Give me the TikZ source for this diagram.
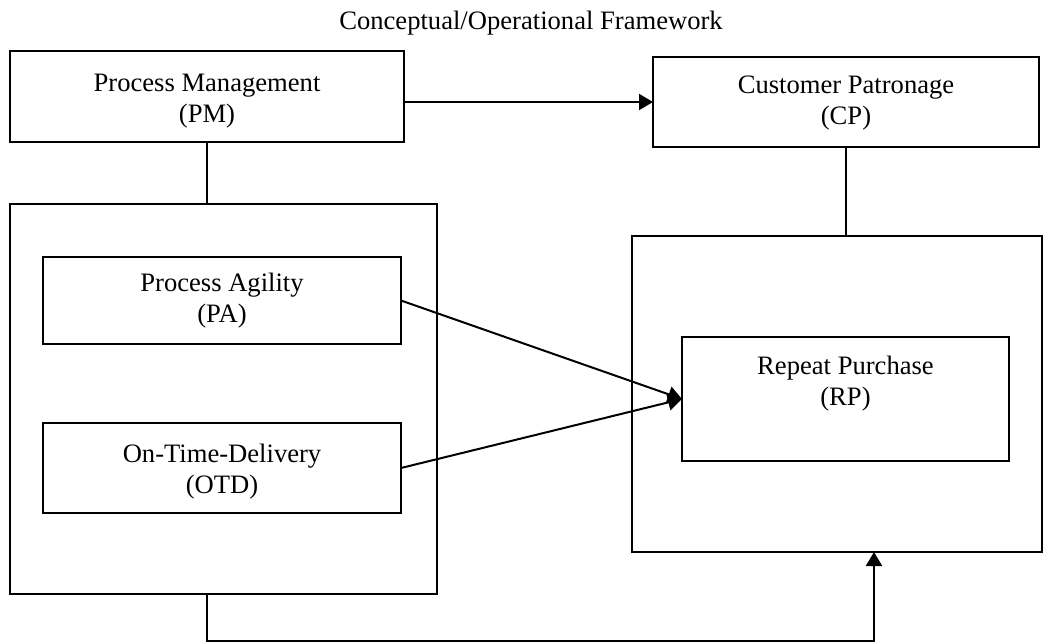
\documentclass[tikz,border=0pt]{standalone}
\usepackage{fontspec}
\setmainfont{Liberation Serif}
\usetikzlibrary{positioning, arrows.meta}

\begin{document}
\begin{tikzpicture}[x=0.5pt, y=-0.5pt, line width=1pt,
    >={Triangle[length=7pt,width=8pt]},
    box/.style={draw, rectangle, inner sep=0pt, outer sep=0pt},
    txt/.style={align=center, inner sep=0pt, font=\fontsize{13.3}{15.5}\selectfont}]
  \useasboundingbox (0,0) rectangle (1044,643);
  \node[txt, anchor=base] (title) at (531,29) {Conceptual/Operational Framework};

  \node[box, minimum width=197pt, minimum height=45.5pt] (pm) at (207,96.5) {};
  \node[box, minimum width=193pt, minimum height=45pt] (cp) at (846,102) {};
  \node[box, minimum width=213.5pt, minimum height=195pt] (lb) at (223.5,399) {};
  \node[box, minimum width=179pt, minimum height=43.5pt] (pa) at (222,300.5) {};
  \node[box, minimum width=179pt, minimum height=45pt] (otd) at (222,468) {};
  \node[box, minimum width=205pt, minimum height=158pt] (rb) at (837,394) {};
  \node[box, minimum width=163.5pt, minimum height=62pt] (rp) at (845.5,399) {};

  \node[txt, below=11pt of pm.north] (pmtext) {Process Management\\(PM)};
  \node[txt, below=9pt of cp.north] (cptext) {Customer Patronage\\(CP)};
  \node[txt, below=7.5pt of pa.north] (patext) {Process Agility\\(PA)};
  \node[txt, below=10pt of otd.north] (otdtext) {On-Time-Delivery\\(OTD)};
  \node[txt, below=9pt of rp.north] (rptext) {Repeat Purchase\\(RP)};

  \draw[->] (pm.east |- cp.west) -- (cp.west);
  \draw (pm.south) -- (pm.south |- lb.north);
  \draw (cp.south) -- (cp.south |- rb.north);
  \draw[->] (pa.east) -- (rp.west);
  \draw[->] (otd.east) -- (rp.west);
  \coordinate (bend) at (874,641);
  \draw[->] (pm.south |- lb.south) |- (bend) -- (bend |- rb.south);
\end{tikzpicture}
\end{document}
